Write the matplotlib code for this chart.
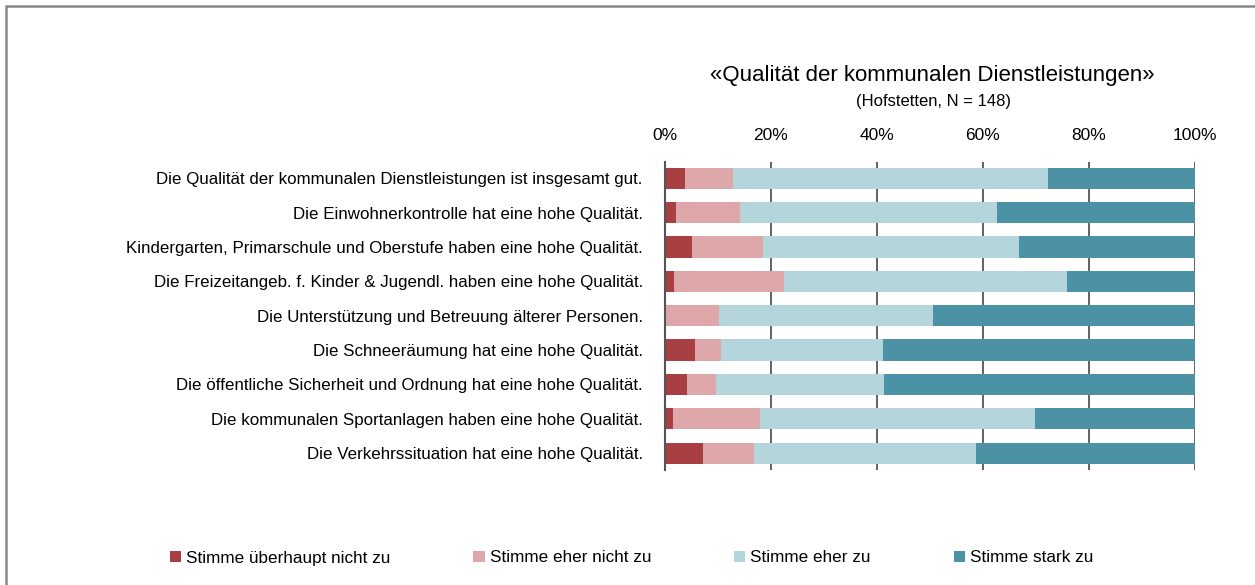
import matplotlib
matplotlib.use("Agg")
import matplotlib.pyplot as plt
from matplotlib.patches import Rectangle
import numpy as np

plt.rcParams['font.family'] = ['Liberation Sans Narrow', 'Liberation Sans', 'DejaVu Sans']

# statements (top to bottom)
labels = [
    "Die Qualität der kommunalen Dienstleistungen ist insgesamt gut.",
    "Die Einwohnerkontrolle hat eine hohe Qualität.",
    "Kindergarten, Primarschule und Oberstufe haben eine hohe Qualität.",
    "Die Freizeitangeb. f. Kinder & Jugendl. haben eine hohe Qualität.",
    "Die Unterstützung und Betreuung älterer Personen.",
    "Die Schneeräumung hat eine hohe Qualität.",
    "Die öffentliche Sicherheit und Ordnung hat eine hohe Qualität.",
    "Die kommunalen Sportanlagen haben eine hohe Qualität.",
    "Die Verkehrssituation hat eine hohe Qualität.",
]

series_names = ["Stimme überhaupt nicht zu", "Stimme eher nicht zu",
                "Stimme eher zu", "Stimme stark zu"]

# shares in percent
nicht_zu = [3.7, 2.1, 5.0, 1.7, 0.0, 5.7, 4.2, 1.5, 7.1]
eher_nicht = [9.2, 12.1, 13.4, 20.7, 10.2, 4.9, 5.5, 16.4, 9.7]
eher_zu = [59.4, 48.4, 48.3, 53.4, 40.4, 30.6, 31.7, 52.0, 41.9]
stark_zu = [27.7, 37.4, 33.3, 24.2, 49.4, 58.8, 58.6, 30.1, 41.3]

colors = ['#A84043', '#DEA7A9', '#B4D5DB', '#4B92A5']

fig = plt.figure(figsize=(12.55, 5.85), dpi=100)
ax = fig.add_axes([665 / 1255, 1 - 470 / 585, 530 / 1255, 308 / 585])

y = np.arange(len(labels))
left = np.zeros(len(labels))
for name, vals, c in zip(series_names, [nicht_zu, eher_nicht, eher_zu, stark_zu], colors):
    ax.barh(y, vals, left=left, height=0.62, color=c, label=name, zorder=2)
    left += np.array(vals)

ax.set_xlim(0, 100)
ax.set_ylim(8.49, -0.47)
ax.set_xticks([0, 20, 40, 60, 80, 100])
ax.set_xticklabels(["0%", "20%", "40%", "60%", "80%", "100%"], fontsize=12.5)
ax.xaxis.tick_top()
ax.tick_params(axis='x', length=0, pad=14)
ax.set_yticks(y)
ax.set_yticklabels(labels, fontsize=12.2)
ax.tick_params(axis='y', length=0, pad=16)
ax.grid(axis='x', color='#555555', linewidth=1.3, zorder=1)
for s in ['top', 'right', 'bottom']:
    ax.spines[s].set_visible(False)
ax.spines['left'].set_color('#555555')
ax.spines['left'].set_linewidth(1.5)

fig.text(932 / 1255, 1 - 75 / 585, "«Qualität der kommunalen Dienstleistungen»",
         fontsize=16, ha='center', va='center')
fig.text(934 / 1255, 1 - 101 / 585, "(Hofstetten, N = 148)",
         fontsize=12, ha='center', va='center')

fig.legend(loc='center left', bbox_to_anchor=(170 / 1255, 1 - 558 / 585), ncol=4,
           frameon=False, fontsize=12.3, handlelength=0.65, handleheight=0.65,
           handletextpad=0.3, columnspacing=4.85, borderaxespad=0, borderpad=0)

# grey frame around the chart area
fig.patches.append(Rectangle((6 / 1255, -0.1), 1.2, 1 - 6 / 585 + 0.1,
                             transform=fig.transFigure, fill=False,
                             edgecolor='#888888', linewidth=1.8))

plt.savefig("out.png", dpi=100)
